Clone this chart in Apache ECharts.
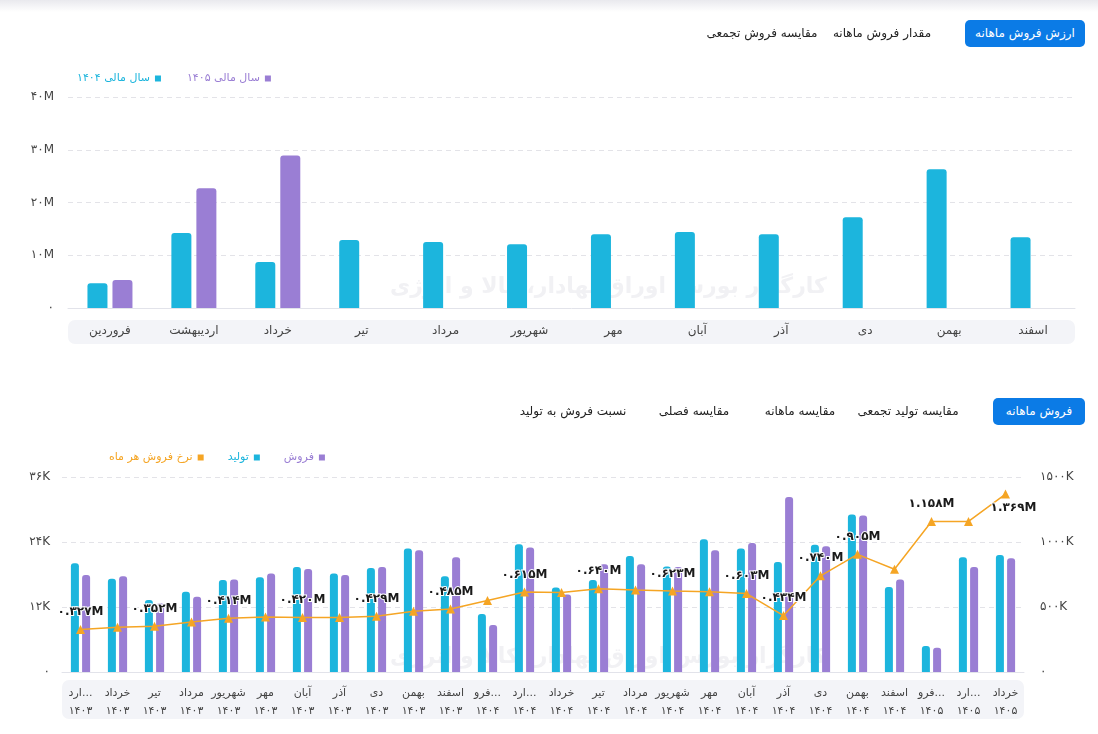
<!DOCTYPE html>
<html><head><meta charset="utf-8">
<script src="https://cdn.jsdelivr.net/npm/echarts@6/dist/echarts.min.js"></script>
<style>
html,body{margin:0;padding:0;background:#fff;width:1098px;height:734px;overflow:hidden;font-family:'DejaVu Sans',sans-serif;}
#topshade{position:absolute;left:0;top:0;width:1098px;height:12px;background:linear-gradient(#e9e9ee,#ffffff);}
#chart{position:absolute;left:0;top:0;width:1098px;height:734px;}
.btn{position:absolute;height:27px;line-height:27px;font-size:12px;color:#222;direction:rtl;text-align:center;white-space:nowrap;border-radius:5px;}
.btn.active{background:#0b7be6;color:#fff;}
</style></head>
<body>
<div id="topshade"></div>
<div id="chart"></div>
<div class="btn active" style="left:965px;top:20px;width:120px;">ارزش فروش ماهانه</div>
<div class="btn" style="left:832px;top:20px;width:100px;">مقدار فروش ماهانه</div>
<div class="btn" style="left:702px;top:20px;width:120px;">مقایسه فروش تجمعی</div>
<div class="btn active" style="left:993px;top:398px;width:92px;">فروش ماهانه</div>
<div class="btn" style="left:852px;top:398px;width:112px;">مقایسه تولید تجمعی</div>
<div class="btn" style="left:752px;top:398px;width:96px;">مقایسه ماهانه</div>
<div class="btn" style="left:648px;top:398px;width:92px;">مقایسه فصلی</div>
<div class="btn" style="left:512px;top:398px;width:122px;">نسبت فروش به تولید</div>
<script>
// ---------- Data: top chart (values in millions) ----------
const topMonths = ['فروردین','اردیبهشت','خرداد','تیر','مرداد','شهریور','مهر','آبان','آذر','دی','بهمن','اسفند'];
const topSeriesNames = ['سال مالی ۱۴۰۴','سال مالی ۱۴۰۵'];
const value1404 = [4.7, 14.2, 8.7, 12.9, 12.5, 12.1, 14.0, 14.4, 14.0, 17.2, 26.3, 13.4];
const value1405 = [5.3, 22.7, 28.9, null, null, null, null, null, null, null, null, null];
const topYTicks = [0, 10, 20, 30, 40];

// ---------- Data: bottom chart ----------
const bottomMonths = ['اردیبهشت','خرداد','تیر','مرداد','شهریور','مهر','آبان','آذر','دی','بهمن','اسفند',
  'فروردین','اردیبهشت','خرداد','تیر','مرداد','شهریور','مهر','آبان','آذر','دی','بهمن','اسفند',
  'فروردین','اردیبهشت','خرداد'];
const bottomYears = ['1403','1403','1403','1403','1403','1403','1403','1403','1403','1403','1403',
  '1404','1404','1404','1404','1404','1404','1404','1404','1404','1404','1404','1404',
  '1405','1405','1405'];
const bottomSeriesNames = ['نرخ فروش هر ماه','تولید','فروش'];
// thousands of units
const production = [20.1,17.2,13.3,14.8,17.0,17.5,19.4,18.2,19.2,22.8,17.7,10.7,23.6,15.6,17.0,21.4,19.5,24.5,22.8,20.3,23.5,29.1,15.7,4.8,21.2,21.6];
const sales      = [17.9,17.7,12.7,13.9,17.1,18.2,19.0,17.9,19.4,22.5,21.2, 8.7,23.0,14.3,19.9,19.9,19.4,22.5,23.8,32.3,23.2,28.9,17.1,4.5,19.4,21.0];
// monthly sales rate, thousands
const rate       = [327,344,352,385,414,424,420,420,429,468,485,550,615,612,640,630,623,618,603,434,740,905,790,1158,1158,1369];
const labelledPoints = [0,2,4,6,8,10,12,14,16,18,19,20,21,23,25];
const leftTicks = [0, 12, 24, 36];
const rightTicks = [0, 500, 1000, 1500];
const watermark = 'کارگزار بورس اوراق بهادار، کالا و انرژی';

// ---------- Helpers ----------
const faDigits = '۰۱۲۳۴۵۶۷۸۹';
const toFa = s => String(s).replace(/\d/g, d => faDigits[d]);
const FONT = "'DejaVu Sans', sans-serif";
const TEAL = '#1cb5dd', PURPLE = '#9a7ed4', ORANGE = '#f5a524';

const chart = echarts.init(document.getElementById('chart'), null, {renderer: 'canvas'});
const lastIdx = rate.length - 1;

const option = {
  animation: false,
  textStyle: {fontFamily: FONT},
  graphic: [
    {type: 'rect', z: -10, shape: {x: 68, y: 320, width: 1007, height: 24, r: 7}, style: {fill: '#f3f4f8'}},
    {type: 'rect', z: -10, shape: {x: 62, y: 680, width: 962, height: 39, r: 7}, style: {fill: '#f3f4f8'}},
    {type: 'text', z: -20, left: 390, top: 276, style: {text: watermark, fill: '#f1f1f4', font: 'bold 22px DejaVu Sans'}},
    {type: 'text', z: -20, left: 390, top: 646, style: {text: watermark, fill: '#f1f1f4', font: 'bold 22px DejaVu Sans'}}
  ],
  legend: [
    {
      left: 72, top: 68, icon: 'rect', itemWidth: 6, itemHeight: 6, itemGap: 26, align: 'right',
      data: [
        {name: topSeriesNames[0], textStyle: {color: TEAL}},
        {name: topSeriesNames[1], textStyle: {color: PURPLE}}
      ],
      textStyle: {fontSize: 11, fontFamily: FONT}
    },
    {
      left: 104, top: 447, icon: 'rect', itemWidth: 6, itemHeight: 6, itemGap: 24, align: 'right',
      data: [
        {name: bottomSeriesNames[0], textStyle: {color: ORANGE}},
        {name: bottomSeriesNames[1], textStyle: {color: TEAL}},
        {name: bottomSeriesNames[2], textStyle: {color: PURPLE}}
      ],
      textStyle: {fontSize: 11, fontFamily: FONT}
    }
  ],
  grid: [
    {left: 68, right: 23, top: 97, height: 211},
    {left: 62, right: 74, top: 477, height: 195}
  ],
  xAxis: [
    {
      type: 'category', gridIndex: 0, data: topMonths,
      axisTick: {show: false},
      axisLine: {lineStyle: {color: '#e2e3ea'}},
      axisLabel: {color: '#444', fontSize: 12, margin: 17}
    },
    {
      type: 'category', gridIndex: 1,
      data: bottomMonths.map((m, i) => m + '\n' + toFa(bottomYears[i])),
      axisTick: {show: false},
      axisLine: {lineStyle: {color: '#e2e3ea'}},
      axisLabel: {color: '#444', fontSize: 11, margin: 12, lineHeight: 18, interval: 0,
        width: 38, overflow: 'truncate', ellipsis: '...'}
    }
  ],
  yAxis: [
    {
      type: 'value', gridIndex: 0, min: topYTicks[0], max: topYTicks[topYTicks.length - 1], interval: 10,
      axisLabel: {color: '#444', fontSize: 12, margin: 14, formatter: v => v === 0 ? toFa(0) : toFa(v) + 'M'},
      splitLine: {lineStyle: {color: '#e3e3e8', type: [5, 4]}},
      axisLine: {show: false}, axisTick: {show: false}
    },
    {
      type: 'value', gridIndex: 1, min: leftTicks[0], max: leftTicks[leftTicks.length - 1], interval: 12,
      axisLabel: {color: '#444', fontSize: 12, margin: 12, formatter: v => v === 0 ? toFa(0) : toFa(v) + 'K'},
      splitLine: {lineStyle: {color: '#e3e3e8', type: [5, 4]}},
      axisLine: {show: false}, axisTick: {show: false}
    },
    {
      type: 'value', gridIndex: 1, position: 'right', min: rightTicks[0], max: rightTicks[rightTicks.length - 1], interval: 500,
      axisLabel: {color: '#444', fontSize: 12, margin: 16, formatter: v => v === 0 ? toFa(0) : toFa(v) + 'K'},
      splitLine: {show: false},
      axisLine: {show: false}, axisTick: {show: false}
    }
  ],
  series: [
    {
      name: topSeriesNames[0], type: 'bar', xAxisIndex: 0, yAxisIndex: 0, data: value1404,
      barWidth: 20, barGap: '25%', itemStyle: {color: TEAL, borderRadius: [3, 3, 0, 0]}
    },
    {
      name: topSeriesNames[1], type: 'bar', xAxisIndex: 0, yAxisIndex: 0, data: value1405,
      barWidth: 20, barGap: '25%', itemStyle: {color: PURPLE, borderRadius: [3, 3, 0, 0]}
    },
    {
      name: bottomSeriesNames[1], type: 'bar', xAxisIndex: 1, yAxisIndex: 1, data: production,
      barWidth: 8, barGap: '40%', itemStyle: {color: TEAL, borderRadius: [3, 3, 0, 0]}
    },
    {
      name: bottomSeriesNames[2], type: 'bar', xAxisIndex: 1, yAxisIndex: 1, data: sales,
      barWidth: 8, barGap: '40%', itemStyle: {color: PURPLE, borderRadius: [3, 3, 0, 0]}
    },
    {
      name: bottomSeriesNames[0], type: 'line', xAxisIndex: 1, yAxisIndex: 2, z: 5,
      symbol: 'triangle', symbolSize: 9,
      lineStyle: {color: ORANGE, width: 1.5}, itemStyle: {color: ORANGE},
      data: rate.map((v, i) => ({
        value: v,
        label: i === lastIdx
          ? {show: true, position: 'bottom', distance: 3, offset: [8, 0]}
          : {show: labelledPoints.includes(i)}
      })),
      label: {
        position: 'top', distance: 7, color: '#1a1a1a', fontWeight: 'bold', fontSize: 12,
        textBorderColor: '#fff', textBorderWidth: 2,
        formatter: p => toFa((p.value / 1000).toFixed(3)) + 'M'
      }
    }
  ]
};
chart.setOption(option);
</script>
</body></html>
